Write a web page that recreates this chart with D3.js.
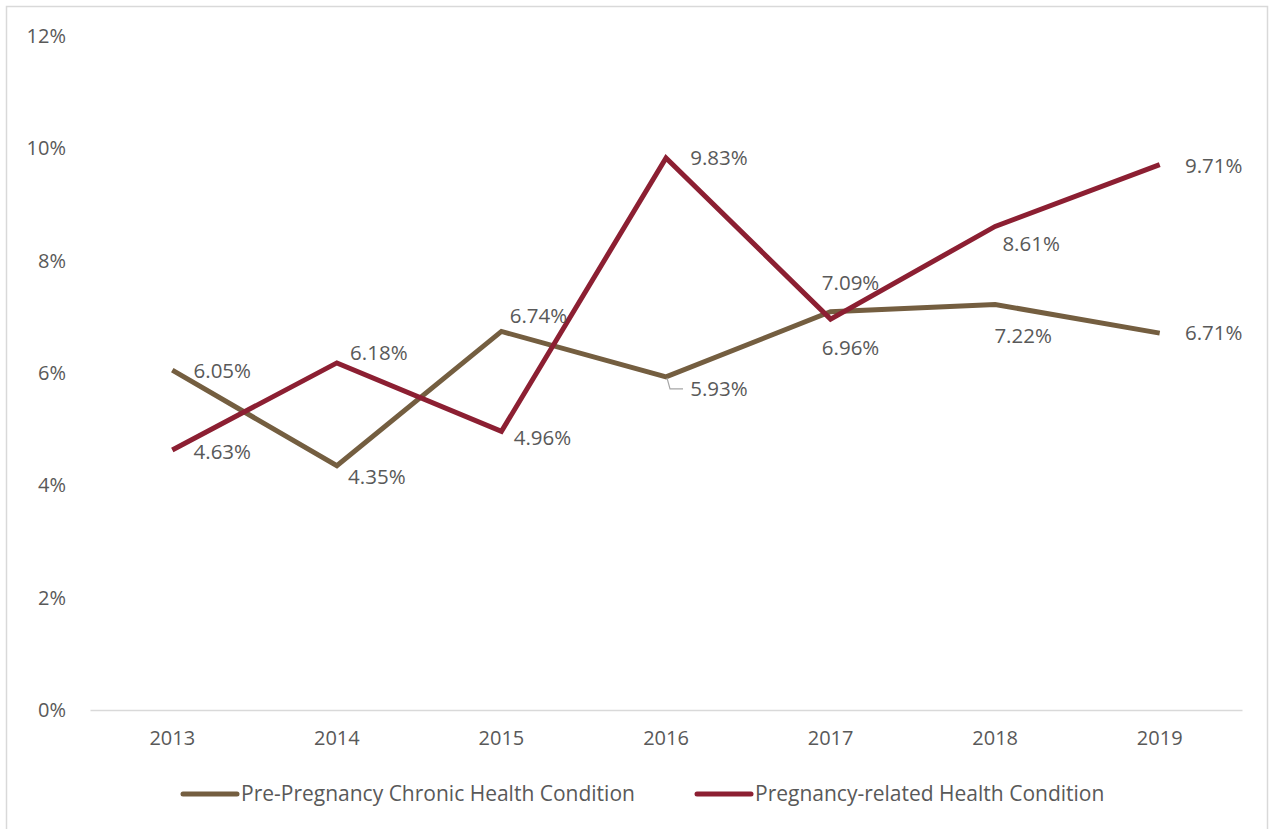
<!DOCTYPE html>
<html>
<head>
<meta charset="utf-8">
<script src="https://cdnjs.cloudflare.com/ajax/libs/d3/7.8.5/d3.min.js"></script>
<style>
    body { margin: 0; background: #fff; }
    text { font-family: "Open Sans", "Noto Sans", sans-serif; fill: #595959; }
</style>
</head>
<body>
<div id="chart"></div>
<script>
// data
var years = ["2013", "2014", "2015", "2016", "2017", "2018", "2019"];
var preChronic = [6.05, 4.35, 6.74, 5.93, 7.09, 7.22, 6.71];
var pregRelated = [4.63, 6.18, 4.96, 9.83, 6.96, 8.61, 9.71];
var seriesNames = ["Pre-Pregnancy Chronic Health Condition", "Pregnancy-related Health Condition"];
var yTicks = [0, 2, 4, 6, 8, 10, 12];

// label offsets (label centre relative to point)
var preLabelPos = [[50, 1], [40, 11], [37, -16], [53, 12], [20, -29], [28, 31], [54, 0]];
var pregLabelPos = [[50, 2], [42, -10], [41, 6], [53, 0], [20, 29], [36, 17], [54, 1]];

var colors = ["#745E40", "#8C1F32"];

var W = 1271, H = 829;
var margin = {top: 36, right: 29, bottom: 119, left: 90},
    width = W - margin.left - margin.right,
    height = H - margin.top - margin.bottom;

var root = d3.select("#chart")
    .append("svg")
    .attr("width", W)
    .attr("height", H);

// outer border
root.append("rect")
    .attr("x", 6.5).attr("y", 6.5)
    .attr("width", W - 10).attr("height", H)
    .attr("fill", "none")
    .attr("stroke", "#D9D9D9")
    .attr("stroke-width", 1.5);

var svg = root.append("g")
    .attr("transform", "translate(" + margin.left + "," + margin.top + ")");

var xScale = d3.scaleBand()
    .domain(years)
    .range([0, width]);

var yScale = d3.scaleLinear()
    .domain([0, 12])
    .range([height, 0]);

// y axis labels
svg.append("g")
    .attr("class", "y-axis")
    .call(d3.axisLeft(yScale)
        .tickValues(yTicks)
        .tickSize(0)
        .tickPadding(24)
        .tickFormat(function(d){ return d + "%"; }))
    .call(function(g){ g.select(".domain").remove(); })
    .selectAll("text")
    .style("font-size", "20px")
    .style("fill", "#595959")
    .style("font-family", "'Open Sans', sans-serif");

// x axis
svg.append("g")
    .attr("class", "x-axis")
    .attr("transform", "translate(0," + height + ")")
    .call(d3.axisBottom(xScale).tickSize(0).tickPadding(21))
    .call(function(g){
        g.select(".domain").attr("stroke", "#D9D9D9").attr("stroke-width", 1.5);
    })
    .selectAll("text")
    .style("font-size", "20px")
    .style("fill", "#595959")
    .style("font-family", "'Open Sans', sans-serif");

var xc = function(i){ return xScale(years[i]) + xScale.bandwidth() / 2; };

var line = d3.line()
    .x(function(d, i){ return xc(i); })
    .y(function(d){ return yScale(d); });

var allSeries = [preChronic, pregRelated];
var allPos = [preLabelPos, pregLabelPos];

allSeries.forEach(function(vals, s){
    svg.append("path")
        .datum(vals)
        .attr("fill", "none")
        .attr("stroke", colors[s])
        .attr("stroke-width", 5)
        .attr("stroke-linejoin", "miter")
        .attr("d", line);
});

// leader line for 2016 pre-pregnancy label
svg.append("path")
    .attr("fill", "none")
    .attr("stroke", "#A6A6A6")
    .attr("stroke-width", 1.2)
    .attr("d", "M" + (xc(3) + 1) + "," + (yScale(preChronic[3]) + 1) +
        "L" + (xc(3) + 4) + "," + (yScale(preChronic[3]) + 12) +
        "L" + (xc(3) + 17) + "," + (yScale(preChronic[3]) + 12));

allSeries.forEach(function(vals, s){
    svg.append("g").selectAll("text")
        .data(vals)
        .enter()
        .append("text")
        .attr("x", function(d, i){ return xc(i) + allPos[s][i][0]; })
        .attr("y", function(d, i){ return yScale(d) + allPos[s][i][1]; })
        .attr("text-anchor", "middle")
        .attr("dy", "0.35em")
        .style("font-size", "20.5px")
        .text(function(d){ return d.toFixed(2) + "%"; });
});

// legend
var legendX = [183, 697];
var legend = root.append("g");
seriesNames.forEach(function(name, s){
    legend.append("line")
        .attr("x1", legendX[s]).attr("x2", legendX[s] + 54)
        .attr("y1", 794).attr("y2", 794)
        .attr("stroke", colors[s])
        .attr("stroke-width", 5)
        .attr("stroke-linecap", "round");
    legend.append("text")
        .attr("x", legendX[s] + 58)
        .attr("y", 794)
        .attr("dy", "0.35em")
        .style("font-size", "21px")
        .text(name);
});
</script>
</body>
</html>
